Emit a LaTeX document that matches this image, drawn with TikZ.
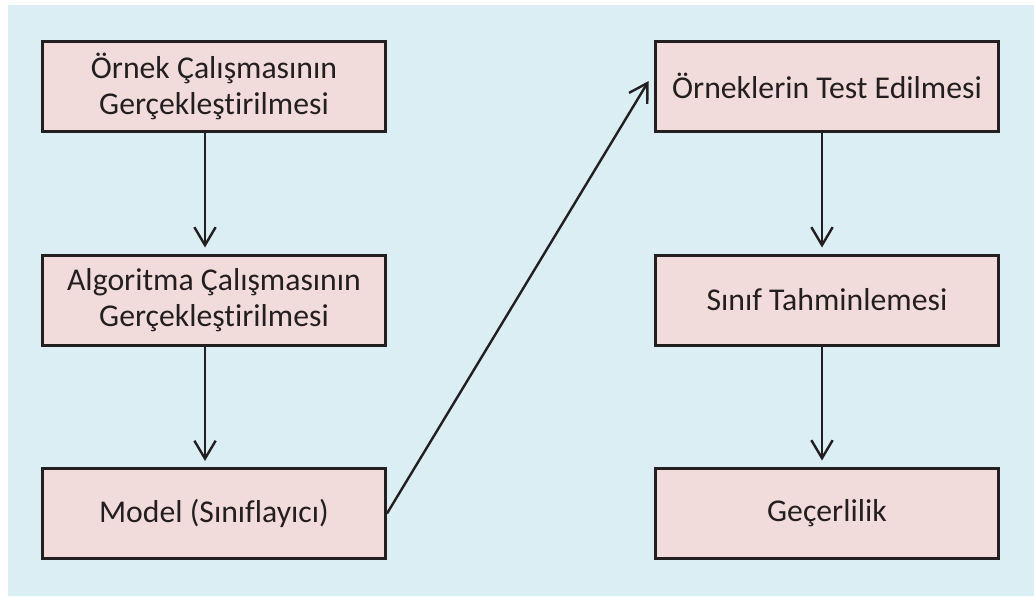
\documentclass[tikz,border=0pt]{standalone}
\usepackage{fontspec}
\setmainfont{Carlito}[RawFeature={-liga;-clig;-dlig;-calt}]
\usetikzlibrary{arrows.meta}
\definecolor{panelblue}{HTML}{DAEEF3}
\definecolor{boxpink}{HTML}{F2DCDB}
\definecolor{inkdark}{HTML}{231F20}
\begin{document}
\begin{tikzpicture}[x=0.75pt,y=-0.75pt,
  stepbox/.style={draw=inkdark, line width=2.25pt, fill=boxpink,
    minimum width=257.25pt, minimum height=67.5pt, inner sep=0pt,
    align=center, text=inkdark,
    font=\fontsize{23.8pt}{27pt}\selectfont},
  flow/.style={draw=inkdark, line width=1.8pt,
    -{Straight Barb[length=13.5pt,width=16pt,line width=1.8pt]}}]
  % page and panel
  \useasboundingbox (0,0) rectangle (1034,596);
  \fill[panelblue] (8,5) rectangle (1034,596);

  % left column
  \node[stepbox] (b1) at (214,86.5) {Örnek Çalışmasının\\Gerçekleştirilmesi};
  \node[stepbox] (b2) at (214,300) {Algoritma Çalışmasının\\Gerçekleştirilmesi};
  \node[stepbox] (b3) at (214,513.5) {Model (Sınıflayıcı)};

  % right column
  \node[stepbox] (r1) at (827,86) {Örneklerin Test Edilmesi};
  \node[stepbox] (r2) at (827,300) {Sınıf Tahminlemesi};
  \node[stepbox] (r3) at (827,513) {Geçerlilik};

  % connectors
  \draw[flow] ([xshift=-6.75pt]b1.south) -- ([xshift=-6.75pt,yshift=4.5pt]b2.north);
  \draw[flow] ([xshift=-6.75pt]b2.south) -- ([xshift=-6.75pt,yshift=4.5pt]b3.north);
  \draw[flow] (b3.east) -- ([xshift=-4pt,yshift=3.75pt]r1.west);
  \draw[flow] ([xshift=-3.75pt]r1.south) -- ([xshift=-3.75pt,yshift=4.5pt]r2.north);
  \draw[flow] ([xshift=-3.75pt]r2.south) -- ([xshift=-3.75pt,yshift=4.5pt]r3.north);
\end{tikzpicture}
\end{document}
